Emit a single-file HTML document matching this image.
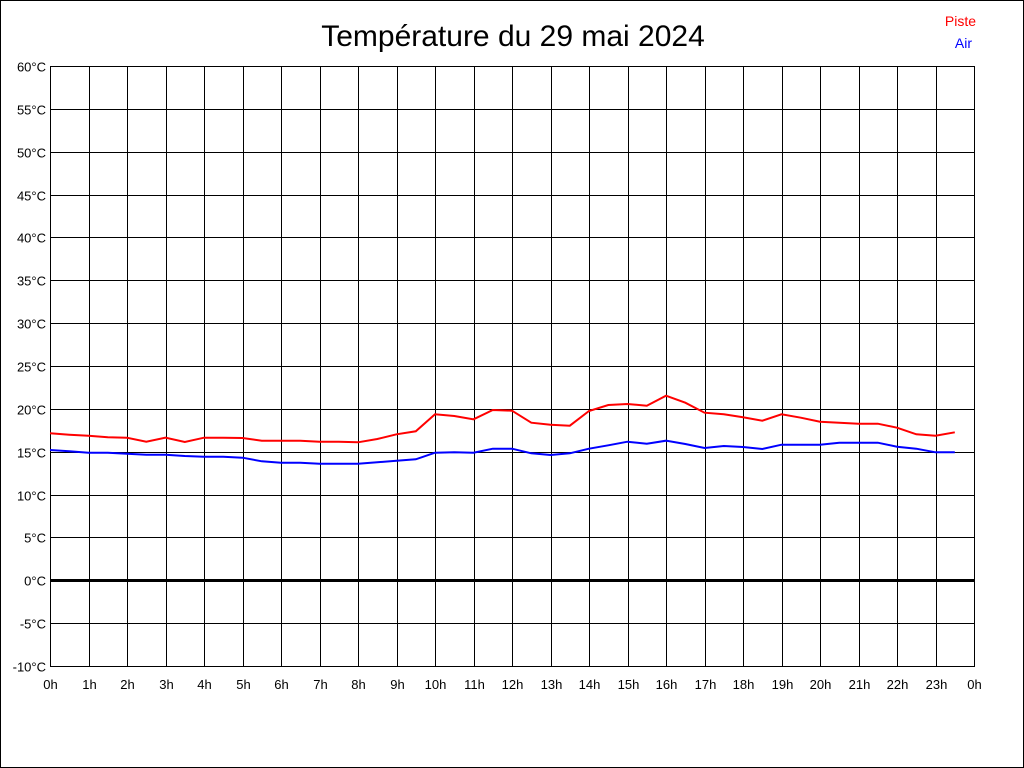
<!DOCTYPE html>
<html><head><meta charset="utf-8"><style>body{margin:0;background:#fff}svg{display:block}</style></head>
<body>
<svg width="1024" height="768" xmlns="http://www.w3.org/2000/svg" font-family="Liberation Sans, sans-serif">
<rect x="0.5" y="0.5" width="1023" height="767" fill="#fff" stroke="#000"/>
<text x="513" y="46" font-size="30" text-anchor="middle">Température du 29 mai 2024</text>
<text x="976" y="26" font-size="14" fill="#f00" text-anchor="end">Piste</text>
<text x="972" y="48" font-size="14" fill="#00f" text-anchor="end">Air</text>
<g id="grid" stroke="#000" stroke-width="1" shape-rendering="crispEdges"></g>
<g id="lab" font-size="13" fill="#000"></g>
<polyline id="red" fill="none" stroke="#f00" stroke-width="2"/>
<polyline id="blue" fill="none" stroke="#00f" stroke-width="2"/>
</svg>
<script>
var ns="http://www.w3.org/2000/svg",g=document.getElementById('grid'),l=document.getElementById('lab');
function el(p,t,a,txt){var e=document.createElementNS(ns,t);for(var k in a)e.setAttribute(k,a[k]);if(txt!=null)e.textContent=txt;p.appendChild(e);}
for(var k=0;k<=14;k++){var y=Math.round(66+k*600/14)+0.5;var v=60-5*k;
el(g,'line',{x1:50,x2:974,y1:y,y2:y,'stroke-width':v==0?3:1});
el(l,'text',{x:46,y:y+5,'text-anchor':'end'},v+'°C');}
for(var h=0;h<=24;h++){var x=Math.round(50+h*38.5)+0.5;
el(g,'line',{x1:x,x2:x,y1:66,y2:666});
el(l,'text',{x:x,y:689,'text-anchor':'middle'},(h%24)+'h');}
el(g,'rect',{x:50.5,y:66.5,width:924,height:600,fill:'none'});
var R=[433.3,434.7,435.7,437.3,437.7,441.7,437.7,442,437.7,437.7,438,440.7,440.7,440.7,441.7,441.7,442.3,439,434.3,431.3,414.3,416,419.3,410,410.7,422.7,424.7,425.7,411,405,404,405.7,395.7,402.7,412.7,414.3,417.3,420.7,414.3,417.7,421.7,422.7,423.7,423.7,427.7,434.3,435.7,432.3];
var B=[450,451.3,452.7,452.7,453.7,454.7,454.7,456,456.7,456.7,457.7,461.3,462.7,462.7,463.7,463.7,463.7,462.3,460.7,459.3,452.7,452.3,452.7,448.7,448.7,453.3,455,453.3,448.7,445.3,441.7,443.7,440.7,444,448,446,447,449,444.7,444.7,444.7,442.7,442.7,442.7,446.7,448.7,452.3,452.3];
function pts(a){return a.map(function(y,i){return (50+i*19.25).toFixed(1)+','+y}).join(' ');}
document.getElementById('red').setAttribute('points',pts(R));
document.getElementById('blue').setAttribute('points',pts(B));
</script>
</body></html>
